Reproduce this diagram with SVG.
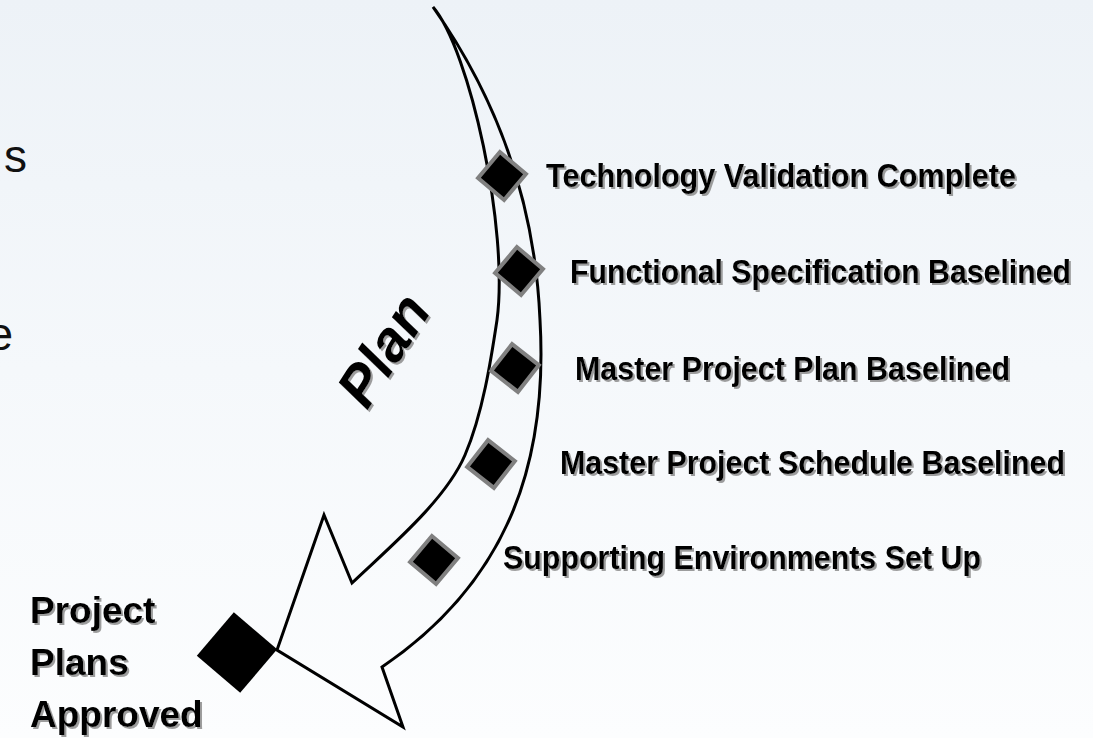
<svg xmlns="http://www.w3.org/2000/svg" width="1093" height="738" viewBox="0 0 1093 738">
  <defs>
    <linearGradient id="bg" x1="0" y1="0" x2="0" y2="1">
      <stop offset="0" stop-color="#edf2f7"/>
      <stop offset="0.5" stop-color="#f5f8fb"/>
      <stop offset="1" stop-color="#fcfdfe"/>
    </linearGradient>
    <filter id="sh" x="-10%" y="-20%" width="120%" height="150%">
      <feDropShadow dx="2" dy="2" stdDeviation="0.6" flood-color="#8c8c8c" flood-opacity="0.85"/>
    </filter>
  </defs>
  <style>
    .lbl { font-family: "Liberation Sans", Arial, sans-serif; font-weight: bold; font-size: 34px; fill: #000; }
    .big { font-family: "Liberation Sans", Arial, sans-serif; font-weight: bold; font-size: 37px; fill: #000; }
    .cut { font-family: "Liberation Sans", Arial, sans-serif; font-size: 46px; fill: #111; }
    .ms { fill: #000; stroke: #808080; stroke-width: 4; }
    .arrow { fill: none; stroke: #000; stroke-width: 3; stroke-linejoin: miter; }
  </style>

  <rect x="0" y="0" width="1093" height="738" fill="url(#bg)"/>

  <!-- cut-off text at the left edge -->
  <g id="cut-text">
    <text class="cut" x="27" y="172" text-anchor="end">s</text>
    <text class="cut" x="13" y="350" text-anchor="end">e</text>
  </g>

  <!-- curved flow arrow -->
  <g id="connectors">
    <path class="arrow" d="M433,7 C495,95 535,200 540,320 C548,460 510,580 382,667 L403,727 L277,650 L324,515 L352,583 C388,548.5 445.3,501 465,455 C482.7,413.6 491,360 497,320 C509,230 470,50 433,7 Z"/>
  </g>

  <g id="plan-label" filter="url(#sh)">
    <text transform="translate(367,411) rotate(-57)" x="0" y="0" font-family="Liberation Sans, Arial, sans-serif" font-weight="bold" font-style="italic" font-size="57" fill="#000">Plan</text>
  </g>

  <g id="m1">
    <rect class="ms" x="-17" y="-17" width="34" height="34" transform="translate(502,176) rotate(40)"/>
    <text class="lbl" x="546" y="187" textLength="470" lengthAdjust="spacingAndGlyphs" filter="url(#sh)">Technology Validation Complete</text>
  </g>
  <g id="m2">
    <rect class="ms" x="-17" y="-17" width="34" height="34" transform="translate(519,271) rotate(40)"/>
    <text class="lbl" x="570" y="283" textLength="501" lengthAdjust="spacingAndGlyphs" filter="url(#sh)">Functional Specification Baselined</text>
  </g>
  <g id="m3">
    <rect class="ms" x="-17" y="-17" width="34" height="34" transform="translate(515,368) rotate(38)"/>
    <text class="lbl" x="575" y="380" textLength="435" lengthAdjust="spacingAndGlyphs" filter="url(#sh)">Master Project Plan Baselined</text>
  </g>
  <g id="m4">
    <rect class="ms" x="-17" y="-17" width="34" height="34" transform="translate(491,464) rotate(38)"/>
    <text class="lbl" x="560" y="474" textLength="505" lengthAdjust="spacingAndGlyphs" filter="url(#sh)">Master Project Schedule Baselined</text>
  </g>
  <g id="m5">
    <rect class="ms" x="-17" y="-17" width="34" height="34" transform="translate(434,560) rotate(40)"/>
    <text class="lbl" x="503" y="569" textLength="478" lengthAdjust="spacingAndGlyphs" filter="url(#sh)">Supporting Environments Set Up</text>
  </g>

  <g id="final">
    <rect x="-28.5" y="-28.5" width="57" height="57" fill="#000" transform="translate(237,652.5) rotate(40.5)"/>
    <g filter="url(#sh)">
      <text class="big" x="30" y="623">Project</text>
      <text class="big" x="30" y="675">Plans</text>
      <text class="big" x="30" y="727">Approved</text>
    </g>
  </g>
</svg>
